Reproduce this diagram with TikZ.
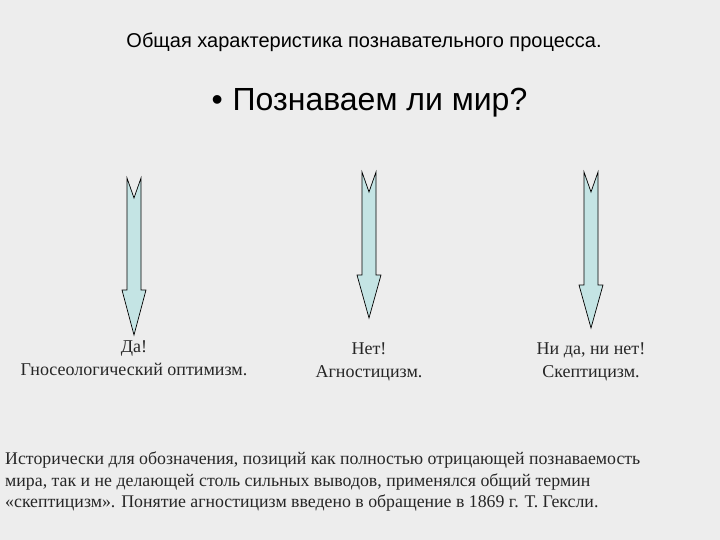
\documentclass[tikz,border=0pt]{standalone}
\usepackage{fontspec}
\setmainfont{Liberation Serif}
\newfontfamily\arialf{Liberation Sans}
\begin{document}
\begin{tikzpicture}[x=1pt,y=-1pt,
  arr/.style={fill=arrowfill, draw=black, line width=0.7pt},
  lbl/.style={font=\fontsize{18}{23}\selectfont, align=center, text=black!85}]
\definecolor{arrowfill}{HTML}{C4E4E4}
\fill[gray!14] (0,0) rectangle (720,540);
\useasboundingbox (0,0) rectangle (720,540);
\node[font=\arialf\fontsize{20}{22}\selectfont] (title) at (364,42) {Общая характеристика познавательного процесса.};
\node[font=\arialf\fontsize{32}{34}\selectfont, anchor=west] (q) at (208,103) {•\hspace{10pt}Познаваем ли мир?};
\foreach \cx/\top/\hs/\tip/\nm in {134/178/290/335/a1, 369/172/275/318/a2, 591/172/285/328/a3}{
  \draw[arr] (\cx-7,\top) -- (\cx,\top+20) -- (\cx+7,\top) -- (\cx+7,\hs) -- (\cx+12,\hs) -- (\cx,\tip) -- (\cx-12,\hs) -- (\cx-7,\hs) -- cycle;
}
\node[lbl] (l1) at (134,358) {Да!\\Гносеологический оптимизм.};
\node[lbl] (l2) at (369,362) {Нет!\\Агностицизм.};
\node[lbl] (l3) at (591,362) {Ни да, ни нет!\\Скептицизм.};
\node[lbl, font=\fontsize{17.8}{21.5}\selectfont, align=left, anchor=north west, inner sep=0pt] (txt) at (5,452) {Исторически для обозначения, позиций как полностью отрицающей познаваемость\\мира, так и не делающей столь сильных выводов, применялся общий термин\\«скептицизм». Понятие агностицизм введено в обращение в 1869 г. Т. Гексли.};
\end{tikzpicture}
\end{document}
